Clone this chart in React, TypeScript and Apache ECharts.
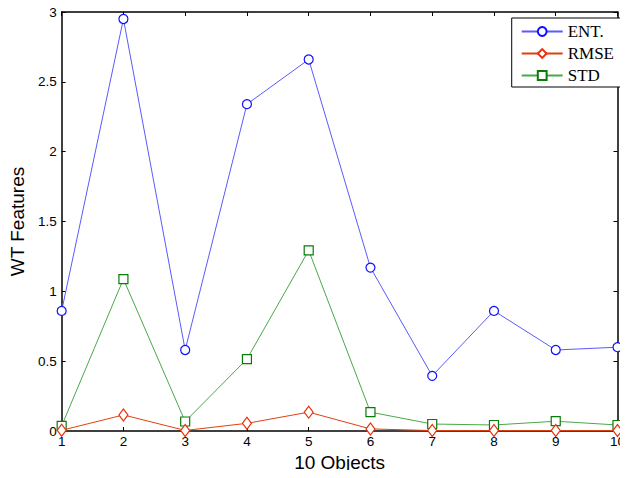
import React, { useEffect, useRef } from "react";
import * as echarts from "echarts";

// Object indices along the x axis
const objects = [1, 2, 3, 4, 5, 6, 7, 8, 9, 10];

// Wavelet-transform feature values per object
const entValues = [0.86, 2.95, 0.58, 2.34, 2.66, 1.17, 0.395, 0.86, 0.58, 0.6];
const rmseValues = [0.005, 0.115, 0.004, 0.055, 0.135, 0.015, 0.003, 0.003, 0.003, 0.003];
const stdValues = [0.037, 1.088, 0.068, 0.515, 1.293, 0.135, 0.05, 0.043, 0.07, 0.043];

const yTicks = [0, 0.5, 1, 1.5, 2, 2.5, 3];

const pairs = (vals: number[]) => objects.map((x, i) => [x, vals[i]]);

export default function App() {
  const ref = useRef<HTMLDivElement>(null);

  useEffect(() => {
    if (!ref.current) return;
    const chart = echarts.init(ref.current, undefined, { renderer: "svg" });
    const sans = "Liberation Sans, Arial, sans-serif";
    const axisFont = { fontFamily: sans, fontSize: 13.5, color: "#000" };
    const nameFont = { fontFamily: sans, fontSize: 19, color: "#000" };
    const tickStyle = { show: true, inside: true, length: 4, lineStyle: { color: "#000", width: 1 } };
    const lineStyle = { color: "#000", width: 1.5 };

    chart.setOption({
      animation: false,
      backgroundColor: "#fff",
      grid: { left: 59, right: 3, top: 12, bottom: 47, containLabel: false },
      legend: {
        orient: "vertical",
        right: 7,
        top: 18,
        backgroundColor: "#fff",
        borderColor: "#000",
        borderWidth: 1,
        borderRadius: 0,
        padding: [5, 7, 3, 9],
        itemWidth: 41,
        itemHeight: 11,
        itemGap: 5,
        textStyle: { fontFamily: "Liberation Serif, Times New Roman, serif", fontSize: 17, color: "#000" },
        data: ["ENT.", "RMSE", "STD"],
      },
      xAxis: [
        {
          type: "value",
          min: 1,
          max: 10,
          interval: 1,
          name: "10 Objects",
          nameLocation: "middle",
          nameGap: 22,
          nameTextStyle: nameFont,
          axisLine: { show: true, lineStyle },
          axisTick: tickStyle,
          axisLabel: { ...axisFont, margin: 3 },
          splitLine: { show: false },
        },
        {
          type: "value",
          position: "top",
          min: 1,
          max: 10,
          interval: 1,
          axisLine: { show: true, onZero: false, lineStyle },
          axisTick: tickStyle,
          axisLabel: { show: false },
          splitLine: { show: false },
        },
      ],
      yAxis: [
        {
          type: "value",
          min: yTicks[0],
          max: yTicks[yTicks.length - 1],
          interval: 0.5,
          name: "WT Features",
          nameLocation: "middle",
          nameGap: 29,
          nameTextStyle: nameFont,
          axisLine: { show: true, lineStyle },
          axisTick: tickStyle,
          axisLabel: { ...axisFont, margin: 5 },
          splitLine: { show: false },
        },
        {
          type: "value",
          position: "right",
          min: yTicks[0],
          max: yTicks[yTicks.length - 1],
          interval: 0.5,
          axisLine: { show: true, onZero: false, lineStyle },
          axisTick: tickStyle,
          axisLabel: { show: false },
          splitLine: { show: false },
        },
      ],
      series: [
        {
          name: "ENT.",
          type: "line",
          data: pairs(entValues),
          symbol: "circle",
          symbolSize: 9,
          showAllSymbol: true,
          lineStyle: { color: "#5a5aff", width: 1 },
          itemStyle: { color: "#fff", borderColor: "#1010ff", borderWidth: 1.2 },
          color: "#1010ff",
          z: 3,
        },
        {
          name: "RMSE",
          type: "line",
          data: pairs(rmseValues),
          symbol: "diamond",
          symbolSize: [9, 12],
          showAllSymbol: true,
          lineStyle: { color: "#e0400e", width: 1 },
          itemStyle: { color: "#fff", borderColor: "#e8300a", borderWidth: 1.2 },
          color: "#e8300a",
          z: 4,
        },
        {
          name: "STD",
          type: "line",
          data: pairs(stdValues),
          symbol: "rect",
          symbolSize: 9,
          showAllSymbol: true,
          lineStyle: { color: "#4aa84a", width: 1 },
          itemStyle: { color: "#fff", borderColor: "#0a7a0a", borderWidth: 1.2 },
          color: "#0a7a0a",
          z: 3,
        },
      ],
    });

    return () => chart.dispose();
  }, []);

  // Negative margin cancels the body's default 8px margin so the chart fills the page
  return <div ref={ref} style={{ width: 628, height: 478, margin: -8 }} />;
}
